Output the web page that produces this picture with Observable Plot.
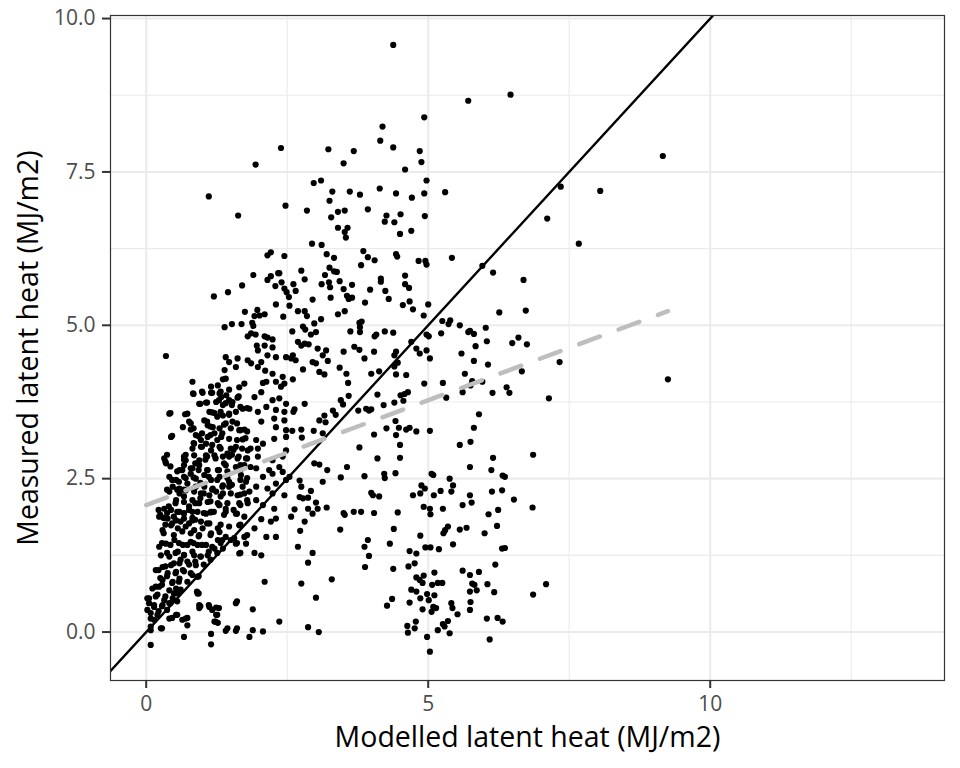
<!DOCTYPE html>
<html><head><meta charset="utf-8">
<script src="https://cdn.jsdelivr.net/npm/d3@7"></script>
<script src="https://cdn.jsdelivr.net/npm/@observablehq/plot@0.6"></script>
<style>body{margin:0;background:#fff;}</style>
</head><body><div id="chart"></div>
<script>
// Observed pairs: [modelled latent heat, measured latent heat] (MJ/m2)
const obs = [
// dense cluster, upper part
[0.35,4.50],[1.96,4.67],[2.10,4.67],[2.24,4.64],[1.98,4.59],[2.30,4.48],[2.15,4.51],[2.04,4.40],[2.48,4.48],[1.41,4.48],
[1.47,4.40],[1.62,4.46],[1.59,4.32],[1.80,4.43],[1.86,4.38],[1.98,4.32],[2.11,4.26],[2.24,4.21],[2.42,4.16],[2.45,4.05],
[1.39,4.27],[1.36,4.12],[1.41,4.13],[0.82,4.08],[1.15,4.00],[1.27,4.02],[1.30,3.89],[1.47,3.95],[1.65,3.99],[1.74,4.05],
[2.07,4.06],[2.13,4.08],[2.30,4.08],[2.39,4.00],[0.83,3.89],[1.00,3.90],[1.17,3.90],[1.33,3.83],[1.47,3.78],[1.62,3.82],
[1.92,3.83],[2.04,3.91],[2.24,3.78],[2.36,3.81],[2.48,3.72],[0.94,3.72],[1.06,3.74],[1.24,3.75],[1.36,3.70],[1.53,3.75],
[1.71,3.64],[1.83,3.64],[1.98,3.59],[2.13,3.67],[2.30,3.62],[2.45,3.59],[0.41,3.56],[0.69,3.55],[1.12,3.59],[1.21,3.57],
[1.36,3.53],[1.47,3.56],[1.59,3.59],[2.27,3.48],[2.45,3.45],[2.04,3.43],[0.76,3.43],[0.65,3.34],[0.79,3.30],[1.03,3.45],
[1.09,3.37],[1.18,3.34],[1.30,3.32],[1.41,3.40],[1.53,3.43],[1.65,3.29],[1.74,3.30],[2.30,3.34],[2.48,3.29],[0.44,3.18],
[0.88,3.21],[0.97,3.13],[1.09,3.18],[1.21,3.24],[1.33,3.18],[1.47,3.15],[1.71,3.14],[1.95,3.13],[2.07,3.07],[2.27,3.15],
[2.48,3.18],[0.85,3.07],[0.82,2.99],[0.97,3.02],[1.06,3.07],[1.15,2.96],[1.30,3.02],[1.50,2.99],[1.59,3.02],[1.80,2.96],
[1.98,2.99],[2.48,2.96],[0.32,2.83],[0.35,2.75],[0.67,2.86],[0.70,2.80],[0.85,2.88],[0.94,2.80],[1.06,2.88],[1.21,2.88],
[1.36,2.86],[1.47,2.86],[1.62,2.83],[1.77,2.83],[1.98,2.86],[2.24,2.80],[2.42,2.86],[0.59,2.64],[0.67,2.72],[0.82,2.67],
[0.94,2.72],[1.09,2.64],[1.27,2.64],[1.41,2.72],[1.59,2.69],[1.74,2.72],[1.95,2.67],[2.18,2.64],[2.36,2.69],[0.41,2.53],
[0.53,2.48],[0.67,2.53],[0.79,2.58],[0.88,2.50],[1.03,2.56],[1.15,2.48],[1.30,2.53],[1.47,2.45],[1.68,2.56],[1.77,2.45],
[2.07,2.53],[2.24,2.58],[2.42,2.61],[2.54,2.53],[0.47,2.37],[0.59,2.34],[0.73,2.42],[0.88,2.37],[1.03,2.37],[1.18,2.34],
[1.36,2.39],[1.47,2.37],[1.71,2.37],[1.95,2.37],[2.15,2.34],[2.30,2.42],[2.48,2.48],
[0.84,3.88],[0.99,3.92],[1.15,3.90],[1.32,3.92],[1.42,3.86],[1.64,3.84],[0.96,3.72],[1.08,3.74],[1.29,3.78],[1.41,3.73],
[1.52,3.70],[1.67,3.67],[1.79,3.65],[0.43,3.57],[0.73,3.56],[1.17,3.58],[1.32,3.59],[1.26,3.51],[1.47,3.54],[1.61,3.40],
[0.79,3.40],[0.84,3.32],[1.08,3.43],[1.14,3.35],[0.99,3.24],[1.38,3.38],[1.50,3.32],[1.67,3.29],[1.79,3.27],[0.46,3.20],
[0.93,3.19],[1.14,3.21],[1.35,3.24],[1.26,3.13],[1.61,3.13],[1.76,3.16],[0.84,3.08],[0.99,3.02],[1.17,3.05],[1.08,2.86],
[1.32,2.99],[1.44,2.91],[1.55,2.97],[1.70,2.99],[1.85,2.99],[0.37,2.89],[0.34,2.78],[0.43,2.70],[0.70,2.89],[0.67,2.81],
[0.87,2.75],[1.05,2.81],[1.23,2.83],[1.38,2.75],[1.52,2.89],[1.64,2.86],[1.67,2.72],[1.79,2.83],[0.55,2.62],[0.64,2.64],
[0.79,2.67],[0.93,2.64],[1.08,2.64],[1.29,2.64],[1.44,2.62],[1.67,2.64],[1.85,2.69],[0.46,2.48],[0.58,2.45],[0.70,2.51],
[0.84,2.52],[0.96,2.43],[1.11,2.53],[1.26,2.48],[1.44,2.51],[1.35,2.37],[1.52,2.40],[1.67,2.48],[1.79,2.51],[0.37,2.32],
[0.55,2.32],[0.67,2.32],[0.84,2.34],[1.02,2.26],[1.17,2.32],[1.32,2.21],[1.50,2.26],[1.67,2.24],[1.79,2.15],[0.22,1.99],
[0.40,2.05],[0.52,2.10],[0.67,2.21],[0.76,2.05],[0.87,2.10],[0.96,2.18],[1.14,2.13],[1.29,2.07],[1.44,2.10],[1.55,1.99],
[1.67,2.07],[0.31,1.86],[0.49,1.88],[0.67,1.94],[0.82,1.86],[1.02,1.94],[1.20,1.96],[1.38,1.91],
// dense cluster, lower part
[0.41,2.29],[0.59,2.26],[0.70,2.31],[0.85,2.29],[0.97,2.26],[1.12,2.23],[1.24,2.29],[1.36,2.26],[0.53,2.15],[0.67,2.12],
[0.82,2.15],[0.94,2.10],[1.09,2.12],[1.27,2.10],[1.41,2.01],[0.32,2.01],[0.44,1.99],[0.59,1.96],[0.76,1.99],[0.91,1.96],
[1.06,1.93],[1.15,1.96],[1.30,2.07],[0.23,1.88],[0.38,1.85],[0.53,1.82],[0.67,1.85],[0.82,1.82],[0.97,1.80],[1.12,1.77],
[1.62,2.23],[1.74,2.26],[1.83,2.29],[1.65,2.10],[1.80,2.10],[1.95,2.15],[2.07,2.07],[2.24,2.26],[2.45,2.23],[2.27,2.01],
[1.59,1.93],[1.74,1.88],[2.04,1.84],[2.21,1.80],[2.30,1.85],[1.27,1.69],[1.47,1.72],[1.65,1.74],[0.29,1.66],[0.44,1.74],
[0.56,1.69],[0.70,1.72],[0.85,1.66],[1.00,1.69],[1.15,1.61],[1.30,1.63],[1.41,1.55],[0.94,1.58],[1.27,1.50],[1.56,1.53],
[1.74,1.55],[1.92,1.69],[2.13,1.55],[2.30,1.55],[1.77,1.44],[0.23,1.39],[0.35,1.44],[0.50,1.50],[0.65,1.42],[0.79,1.47],
[0.91,1.42],[1.06,1.42],[1.21,1.36],[1.36,1.36],[1.59,1.44],[1.65,1.28],[1.92,1.29],[2.04,1.25],[0.26,1.25],[0.41,1.23],
[0.56,1.31],[0.67,1.25],[0.85,1.25],[0.97,1.23],[1.09,1.25],[0.17,1.01],[0.29,1.06],[0.44,1.09],[0.59,1.12],[0.73,1.15],
[0.88,1.09],[0.38,0.96],[0.53,0.98],[0.65,1.01],[0.79,0.96],[0.91,0.90],[0.29,0.85],[0.47,0.82],[0.59,0.87],[0.11,0.71],
[0.23,0.74],[0.41,0.68],[0.53,0.71],[0.02,0.55],[0.17,0.58],[0.32,0.52],[0.47,0.55],[0.56,0.63],[0.91,0.63],[0.05,0.47],
[0.14,0.41],[0.29,0.44],[0.41,0.47],[0.02,0.36],[0.20,0.28],[0.08,0.22],[0.41,0.22],[0.53,0.28],[0.70,0.22],[0.94,0.44],
[1.12,0.41],[1.24,0.40],[1.24,0.28],[1.21,0.17],[1.27,0.15],[0.73,0.11],[0.67,-0.08],[0.26,0.06],[0.08,0.03],[0.08,-0.21],
[1.59,0.47],[1.89,0.37],[2.10,0.82],[2.36,0.17],[1.15,-0.03],[1.41,0.02],[1.59,0.02],[1.89,0.03],[2.07,0.01],[1.83,-0.08],
[1.15,-0.20],[0.94,0.39],
[0.25,1.91],[0.37,1.94],[0.55,1.96],[0.67,1.93],[0.82,1.96],[1.14,1.95],[1.41,1.96],[1.61,1.93],[0.34,1.75],[0.46,1.77],
[0.61,1.80],[0.76,1.77],[0.87,1.83],[1.08,1.77],[1.32,1.75],[1.67,1.75],[0.31,1.61],[0.49,1.58],[0.64,1.64],[0.79,1.61],
[0.93,1.56],[1.14,1.58],[1.35,1.50],[1.50,1.50],[1.79,1.58],[0.28,1.45],[0.43,1.42],[0.58,1.45],[0.73,1.42],[0.84,1.45],
[0.99,1.42],[1.17,1.39],[1.32,1.45],[1.61,1.45],[0.37,1.29],[0.52,1.29],[0.67,1.26],[0.82,1.31],[0.96,1.23],[1.11,1.31],
[1.26,1.29],[1.67,1.29],[0.22,1.01],[0.34,1.07],[0.49,1.12],[0.61,1.18],[0.76,1.10],[0.87,1.15],[1.02,1.10],[1.14,1.18],
[0.25,0.88],[0.37,0.91],[0.52,0.96],[0.67,0.99],[0.82,0.93],[0.93,0.91],[0.17,0.74],[0.28,0.77],[0.46,0.80],[0.58,0.82],
[0.73,0.82],[0.90,0.66],[0.05,0.55],[0.20,0.61],[0.34,0.58],[0.49,0.63],[0.61,0.69],[0.14,0.44],[0.28,0.42],[0.43,0.47],
[0.55,0.50],[0.08,0.31],[0.22,0.34],[0.37,0.36],[0.14,0.20],[0.46,0.23],[0.55,0.28],[0.73,0.23],[0.64,0.20],[0.96,0.42],
[1.11,0.44],[1.17,0.36],[1.29,0.39],[1.26,0.28],[1.23,0.17],[0.93,0.63],[1.61,0.50],[1.44,0.06],[1.61,0.06],[0.28,0.06],
[0.08,0.09],
// upper left
[1.94,7.62],[1.11,7.10],[1.63,6.79],[2.15,6.14],[2.21,6.19],[1.90,5.82],[1.20,5.47],[1.45,5.54],[1.70,5.65],[2.15,5.74],
[2.21,5.80],[2.34,5.85],[2.29,5.64],[2.30,5.34],[1.75,5.22],[1.97,5.25],[1.92,5.15],[2.01,5.16],[2.10,5.18],[1.39,4.97],
[1.52,5.02],[1.69,5.02],[1.88,5.04],[1.90,4.99],[1.86,4.87],[1.94,4.85],[1.80,4.82],[2.15,4.80],[2.24,4.77],[2.10,4.82],
// upper middle
[4.38,9.57],[5.71,8.66],[4.93,8.39],[4.19,8.24],[4.15,8.01],[4.38,7.90],[2.39,7.89],[3.23,7.87],[3.68,7.84],[4.85,7.84],
[4.88,7.66],[3.50,7.64],[4.59,7.54],[2.97,7.32],[3.10,7.36],[4.97,7.36],[2.47,6.95],[3.30,7.18],[3.61,7.18],[3.79,7.13],
[4.14,7.23],[4.43,7.15],[4.71,7.08],[4.93,7.15],[5.30,7.17],[3.25,7.03],[2.85,6.87],[3.40,6.85],[3.52,6.87],[3.93,6.89],
[3.28,6.76],[4.26,6.79],[4.51,6.81],[4.23,6.69],[4.40,6.68],[4.94,6.78],[3.40,6.59],[3.57,6.59],[3.52,6.52],[3.54,6.43],
[4.50,6.49],[4.70,6.54],[2.94,6.33],[3.11,6.31],[2.45,6.13],[3.20,6.16],[3.33,6.10],[3.85,6.21],[3.93,6.11],[4.05,6.06],
[3.81,5.98],[4.43,6.16],[4.45,6.12],[4.83,6.05],[4.95,6.05],[4.97,5.99],[5.42,6.10],[2.75,5.89],[3.25,5.94],[3.33,5.88],
[3.38,5.87],[3.17,5.82],[2.81,5.75],[2.36,5.85],[2.40,5.70],[2.61,5.67],[2.45,5.60],[2.49,5.54],[2.65,5.56],[2.53,5.46],
[3.11,5.67],[3.24,5.70],[3.26,5.62],[3.43,5.72],[3.65,5.66],[3.50,5.59],[3.97,5.58],[4.16,5.76],[4.16,5.71],[4.24,5.56],
[4.59,5.81],[4.59,5.67],[4.66,5.61],[2.95,5.42],[3.27,5.45],[3.56,5.48],[3.59,5.43],[3.65,5.45],[3.88,5.37],[4.30,5.43],
[2.54,5.32],[4.55,5.33],[4.67,5.39],[4.73,5.26],[5.00,5.34],[4.92,5.16],[2.69,5.23],[2.81,5.23],[2.85,5.15],[2.43,5.14],
[3.40,5.18],[3.52,5.23],[3.10,5.10],[2.98,5.03],[3.78,5.04],[3.82,5.06],[3.79,4.97],[2.59,4.90],[2.78,4.98],[2.82,4.93],
[2.92,4.85],[3.01,4.89],[3.62,4.90],[3.79,4.89],[4.08,4.85],[4.05,4.82],[4.23,4.90],[4.38,4.88],[5.25,5.07],[5.36,5.02],
[5.39,5.08],[5.56,5.00],[4.97,4.85],[5.01,4.82],[5.23,4.87],[5.71,4.89],
// lower middle
[2.69,4.73],[2.75,4.67],[2.81,4.70],[2.88,4.69],[2.60,4.51],[2.57,4.46],[2.65,4.43],[2.78,4.28],[2.95,4.40],[3.01,4.38],
[3.04,4.62],[3.13,4.51],[3.22,4.42],[3.19,4.59],[3.07,4.24],[3.16,4.20],[3.43,4.31],[3.50,4.57],[3.55,4.21],[3.58,4.06],
[3.69,4.65],[3.78,4.60],[3.87,4.46],[4.04,4.57],[3.99,4.21],[4.13,4.25],[4.43,4.57],[4.40,4.51],[4.46,4.39],[4.40,4.33],
[4.43,4.20],[4.61,4.19],[4.70,4.73],[4.79,4.62],[4.85,4.54],[4.97,4.59],[4.93,4.05],[5.03,4.46],[5.26,4.06],[5.59,4.54],
[5.65,4.21],[5.61,3.91],[5.32,3.82],[2.60,4.12],[4.10,3.87],[3.45,3.78],[3.49,3.71],[3.59,3.85],[3.31,3.61],[3.36,3.54],
[3.16,3.53],[3.07,3.45],[3.18,3.42],[2.81,3.72],[2.63,3.63],[2.61,3.59],[3.76,3.61],[3.90,3.64],[3.95,3.61],[3.99,3.63],
[4.21,3.70],[4.40,3.74],[4.51,3.86],[4.58,3.88],[4.64,3.91],[4.56,3.77],[4.42,3.44],[4.48,3.33],[4.61,3.30],[4.67,3.33],
[4.43,3.21],[4.79,3.27],[5.03,3.28],[4.26,3.32],[4.04,3.22],[2.97,3.28],[3.13,3.24],[2.75,3.30],[2.76,3.17],[2.59,3.28],
[5.56,3.05],[3.78,3.01],[4.10,2.83],[4.50,3.05],[4.50,2.84],[4.42,2.59],[4.22,2.58],[4.23,2.51],[3.87,2.54],[3.56,2.69],
[3.45,2.52],[3.21,2.64],[3.07,2.73],[2.98,2.75],[3.13,2.45],[5.06,2.58],[5.09,2.56],[4.88,2.39],[4.94,2.34],[4.73,2.23],
[4.86,2.26],[5.10,2.23],[5.22,2.30],[5.38,2.50],[5.44,2.39],[5.41,2.29],[5.61,2.07],[5.26,2.01],[4.92,2.04],[5.03,2.01],
[5.04,1.92],[2.72,2.47],[2.75,2.37],[2.92,2.30],[2.72,2.20],[2.78,2.18],[2.87,2.19],[3.01,2.11],[3.04,2.01],[2.87,2.01],
[2.95,1.93],[2.63,2.00],[2.57,1.88],[2.81,1.80],[3.20,2.03],[3.50,1.94],[3.52,1.91],[3.68,1.96],[3.81,1.96],[4.04,1.94],
[4.46,1.95],[3.99,2.27],[4.02,2.23],[4.13,2.21],[3.44,1.67],[4.39,1.68],[4.32,1.44],[3.87,1.39],[3.93,1.50],[3.95,1.24],
[3.88,1.06],[2.95,1.29],[2.87,1.13],[2.69,1.39],[2.73,1.65],[5.30,1.66],[5.27,1.61],[5.35,1.72],[5.56,1.67],[5.68,1.70],
[5.44,1.43],[5.19,1.35],[4.86,1.57],[4.95,1.38],[5.04,1.38],[4.67,1.32],[4.79,1.28],[4.65,1.07],[4.76,1.12],[5.61,1.00],
[4.79,0.89],[4.85,0.85],[4.92,0.92],[5.11,0.97],[5.17,0.80],[5.25,0.80],[5.07,0.77],[4.90,0.80],[4.70,0.69],[4.79,0.66],
[4.86,0.55],[4.98,0.62],[5.11,0.60],[5.01,0.52],[5.09,0.41],[4.67,0.48],[4.90,0.37],[5.06,0.33],[5.14,0.39],[5.41,0.47],
[5.43,0.39],[5.52,0.29],[5.35,0.18],[5.26,0.13],[5.29,0.09],[5.38,-0.02],[5.17,0.03],[4.78,0.17],[4.63,0.10],[4.64,-0.01],
[4.76,0.06],[4.98,-0.08],[5.03,-0.32],[4.27,0.43],[4.36,0.54],[4.38,1.03],[2.75,0.79],[3.29,0.86],[3.01,0.56],[2.87,0.08],
[3.06,0.00],
// upper right
[6.46,8.76],[9.16,7.76],[7.35,7.26],[8.05,7.19],[7.11,6.74],[7.67,6.33],[5.96,5.97],[6.15,5.86],[6.69,5.74],[6.26,5.21],
[6.73,5.24],[5.74,4.91],[5.81,4.86],[6.02,4.96],[5.84,4.66],[6.04,4.74],[6.49,4.71],[6.60,4.80],[6.75,4.69],[5.81,4.42],
[6.06,4.36],[7.33,4.40],
// lower right
[5.78,4.09],[5.75,4.02],[5.96,4.08],[6.66,4.25],[6.14,3.90],[6.39,3.99],[6.44,3.90],[9.25,4.12],[7.14,3.81],[5.90,3.55],
[5.81,3.33],[5.75,3.10],[6.15,2.84],[6.86,2.89],[5.74,2.69],[6.12,2.64],[6.32,2.55],[6.36,2.53],[5.74,2.23],[5.77,2.11],
[6.13,2.29],[6.31,2.31],[6.52,2.16],[6.85,2.03],[6.07,1.92],[6.24,1.99],[6.22,1.73],[6.00,1.61],[6.31,1.36],[6.36,1.37],
[6.19,1.10],[5.90,0.98],[5.74,0.93],[5.78,0.79],[5.82,0.77],[5.74,0.66],[5.86,0.68],[6.05,0.78],[6.17,0.65],[6.86,0.61],
[7.09,0.78],[5.75,0.49],[5.74,0.36],[6.04,0.22],[6.23,0.23],[6.32,0.17],[6.09,-0.12]
];

const xMajor = [0, 5, 10];
const xMinor = [2.5, 7.5, 12.5];
const yMajor = [0, 2.5, 5, 7.5, 10];
const yMinor = [1.25, 3.75, 6.25, 8.75];
const fitLine = [{x: 0, y: 2.07}, {x: 9.25, y: 5.23}];   // dashed linear fit
const oneToOne = [{x: -2, y: -2}, {x: 16, y: 16}];       // 1:1 line
const xTitle = "Modelled latent heat (MJ/m2)";
const yTitle = "Measured latent heat (MJ/m2)";

const data = obs.map(([x, y]) => ({x, y}));

const chart = Plot.plot({
  width: 960,
  height: 768,
  marginLeft: 110,
  marginRight: 16,
  marginTop: 15,
  marginBottom: 88,
  style: {fontFamily: "'Open Sans', sans-serif", background: "#fff", overflow: "visible"},
  x: {domain: [-0.633, 14.154]},
  y: {domain: [-0.79, 10.05]},
  marks: [
    Plot.ruleX(xMinor, {stroke: "#EBEBEB", strokeWidth: 1.1}),
    Plot.ruleY(yMinor, {stroke: "#EBEBEB", strokeWidth: 1.1}),
    Plot.ruleX(xMajor, {stroke: "#EBEBEB", strokeWidth: 2.1}),
    Plot.ruleY(yMajor, {stroke: "#EBEBEB", strokeWidth: 2.1}),
    Plot.dot(data, {x: "x", y: "y", r: 3.1, fill: "black"}),
    Plot.line(oneToOne, {x: "x", y: "y", stroke: "black", strokeWidth: 2.4, clip: true}),
    Plot.line(fitLine, {x: "x", y: "y", stroke: "#BEBEBE", strokeWidth: 4.5, strokeDasharray: "22,20"}),
    Plot.frame({stroke: "#333333", strokeWidth: 1.2}),
    Plot.axisX(xMajor, {tickSize: 8, tickPadding: 8, fontSize: 21, stroke: "#333333", strokeWidth: 2, fill: "#4D4D4D", label: null}),
    Plot.axisY(yMajor, {tickSize: 8, tickPadding: 7, fontSize: 21, stroke: "#333333", strokeWidth: 2, fill: "#4D4D4D", label: null, tickFormat: d => d.toFixed(1)}),
    Plot.text([xTitle], {frameAnchor: "bottom", dy: 57, lineAnchor: "middle", fontSize: 28.5, fill: "black"}),
    Plot.text([yTitle], {frameAnchor: "left", dx: -82, rotate: -90, textAnchor: "middle", lineAnchor: "middle", fontSize: 28.5, fill: "black"})
  ]
});
document.getElementById("chart").appendChild(chart);
</script>
</body></html>
